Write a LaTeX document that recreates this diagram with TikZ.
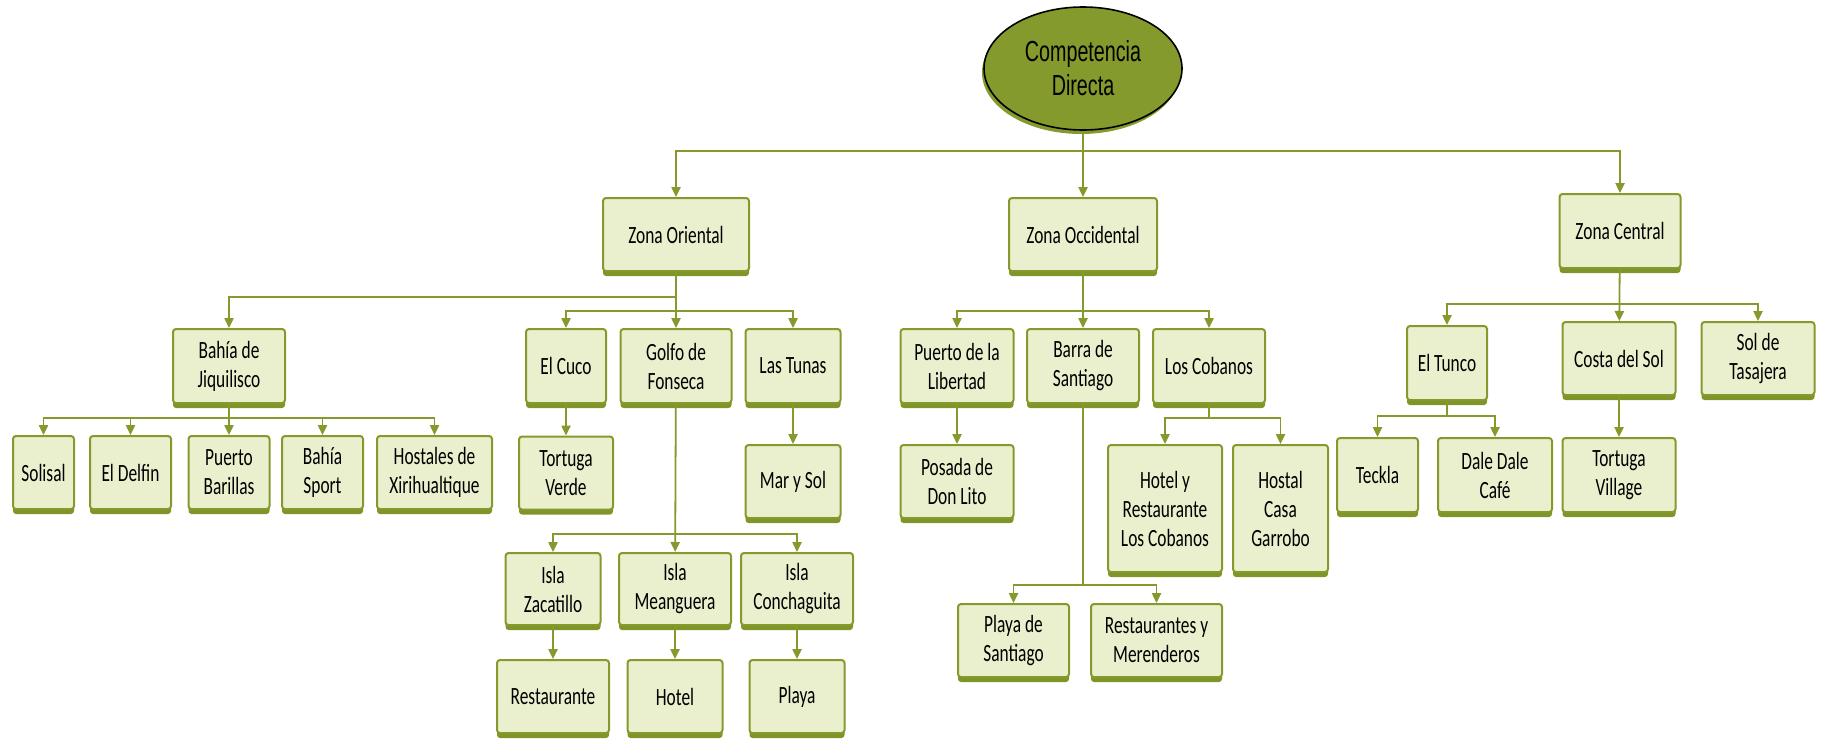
\documentclass[tikz,border=0pt]{standalone}
\usepackage{fontspec}
\usepackage{tikz}
\usetikzlibrary{shapes.geometric,shadows,arrows.meta}

\newfontfamily\cajafont{Carlito}[FakeStretch=0.7]
\newfontfamily\raizfont{Liberation Sans}[FakeStretch=0.68]

\definecolor{oliva}{HTML}{849A2C}
\definecolor{olivaosc}{HTML}{7F952A}
\definecolor{verdeclaro}{HTML}{EAF0CE}

\begin{document}
\begin{tikzpicture}
                \tikzset{x=0.5pt, y=-0.5pt}
                \tikzstyle{caja}=[rectangle, draw=oliva, fill=verdeclaro, line width=1pt, rounded corners=1.5pt,
                    inner sep=0pt, align=center, font={\cajafont\fontsize{12.4pt}{14.5pt}\selectfont},
                    general shadow={fill=olivaosc, shadow yshift=-2.5pt}]
                \tikzstyle{raiz}=[ellipse, draw=black, fill=oliva, line width=0.8pt, inner sep=0pt, align=center,
                    font={\raizfont\fontsize{14.5pt}{17pt}\selectfont},
                    general shadow={fill=oliva, shadow yshift=-2pt, shadow xshift=-1pt}]
                \tikzstyle{liga}=[draw=oliva, line width=0.9pt, -{Triangle[length=5pt,width=4.6pt]}]

                \useasboundingbox (0,0) rectangle (1821,739);

                % raiz y zonas
                \draw (1083, 68.5)  node[raiz, minimum width=99pt, minimum height=61.5pt]  (comp)  {Competencia\\Directa};

                \draw (676, 234.5)  node[caja, minimum width=73pt, minimum height=36.5pt]  (zor)   {Zona Oriental};
                \draw (1083, 234.5) node[caja, minimum width=74pt, minimum height=36.5pt]  (zoc)   {Zona Occidental};
                \draw (1620, 231)   node[caja, minimum width=60.5pt, minimum height=37pt]  (zce)   {Zona Central};

                % zona oriental
                \draw (229, 366)    node[caja, minimum width=56pt, minimum height=37pt]    (bj)    {Bah\'ia de\\Jiquilisco};
                \draw (566, 366)    node[caja, minimum width=40pt, minimum height=37pt]    (cuco)  {El Cuco};
                \draw (676, 366)    node[caja, minimum width=55.5pt, minimum height=37pt]  (golfo) {Golfo de\\Fonseca};
                \draw (793, 366)    node[caja, minimum width=47.5pt, minimum height=37pt]  (tunas) {Las Tunas};

                \draw (43.5, 472.5) node[caja, minimum width=30.5pt, minimum height=36.5pt] (sol)   {Solisal};
                \draw (130.5, 472.5) node[caja, minimum width=40.5pt, minimum height=36.5pt] (delf) {El Delfin};
                \draw (229, 472.5)  node[caja, minimum width=40.5pt, minimum height=36.5pt] (pb)    {Puerto\\Barillas};
                \draw (322.5, 472.5) node[caja, minimum width=40.5pt, minimum height=36.5pt] (bs)   {Bah\'ia\\Sport};
                \draw (434.5, 472.5) node[caja, minimum width=57.5pt, minimum height=36.5pt] (hx)   {Hostales de\\Xirihualtique};
                \draw (566, 473)    node[caja, minimum width=47pt, minimum height=36.5pt]  (tv)    {Tortuga\\Verde};
                \draw (793, 481.5)  node[caja, minimum width=47.5pt, minimum height=36.5pt] (mys)   {Mar y Sol};

                \draw (553, 589)    node[caja, minimum width=47.5pt, minimum height=36pt]  (iz)    {Isla\\Zacatillo};
                \draw (675, 589)    node[caja, minimum width=56pt, minimum height=36pt]    (im)    {Isla\\Meanguera};
                \draw (797, 589)    node[caja, minimum width=56pt, minimum height=36pt]    (ic)    {Isla\\Conchaguita};
                \draw (553, 696.5)  node[caja, minimum width=56pt, minimum height=36.5pt]  (rest)  {Restaurante};
                \draw (675, 696.5)  node[caja, minimum width=47.5pt, minimum height=36.5pt] (hotel) {Hotel};
                \draw (797, 696.5)  node[caja, minimum width=47.5pt, minimum height=36.5pt] (playa) {Playa};

                % zona occidental
                \draw (957, 366)    node[caja, minimum width=56.5pt, minimum height=37pt]  (pl)    {Puerto de la\\Libertad};
                \draw (1083, 366)   node[caja, minimum width=56pt, minimum height=37pt]    (barra) {Barra de\\Santiago};
                \draw (1209, 366)   node[caja, minimum width=56pt, minimum height=37pt]    (cob)   {Los Cobanos};

                \draw (957, 481.5)  node[caja, minimum width=56.5pt, minimum height=36.5pt] (pdl)   {Posada de\\Don Lito};
                \draw (1165, 508.5) node[caja, minimum width=57pt, minimum height=63.5pt]  (hyr)   {Hotel y\\Restaurante\\Los Cobanos};
                \draw (1280.5, 508.5) node[caja, minimum width=47.5pt, minimum height=63.5pt] (hcg) {Hostal\\Casa\\Garrobo};
                \draw (1013.5, 640.5) node[caja, minimum width=55.5pt, minimum height=36.5pt] (pds) {Playa de\\Santiago};
                \draw (1156.5, 640.5) node[caja, minimum width=65.5pt, minimum height=36.5pt] (rym) {Restaurantes y\\Merenderos};

                % zona central
                \draw (1447, 363)   node[caja, minimum width=40pt, minimum height=37pt]    (tunco) {El Tunco};
                \draw (1619, 358.5) node[caja, minimum width=56.5pt, minimum height=36.5pt] (costa) {Costa del Sol};
                \draw (1758, 358.5) node[caja, minimum width=56.5pt, minimum height=36.5pt] (tasa)  {Sol de\\Tasajera};

                \draw (1377.5, 475) node[caja, minimum width=40.5pt, minimum height=37pt]  (teck)  {Teckla};
                \draw (1495, 475)   node[caja, minimum width=57pt, minimum height=37pt]    (ddc)   {Dale Dale\\Caf\'e};
                \draw (1619, 475)   node[caja, minimum width=56.5pt, minimum height=37pt]  (tvil)  {Tortuga\\Village};

                % barras de reparto
                \coordinate (bcomp)  at (0, 151);
                \coordinate (bor)    at (0, 297);
                \coordinate (bor2)   at (0, 311);
                \coordinate (boc)    at (0, 311);
                \coordinate (bce)    at (0, 304);
                \coordinate (bbj)    at (0, 418);
                \coordinate (bgolfo) at (0, 534);
                \coordinate (bcob)   at (0, 418);
                \coordinate (bbarra) at (0, 585);
                \coordinate (btunco) at (0, 416);

                \draw [liga]        (comp) -- (zoc);
                \draw [liga]        (comp.south |- bcomp) -| (zor.north);
                \draw [liga]        (comp.south |- bcomp) -| (zce.north);

                \draw [liga]        (zor) -- (golfo);
                \draw [liga]        (zor.south |- bor) -| (bj.north);
                \draw [liga]        (zor.south |- bor2) -| (cuco.north);
                \draw [liga]        (zor.south |- bor2) -| (tunas.north);

                \draw [liga]        (bj) -- (pb);
                \foreach \h in {sol, delf, bs, hx}
                    \draw [liga]    (bj.south |- bbj) -| (\h.north);
                \draw [liga]        (cuco) -- (tv);
                \draw [liga]        (tunas) -- (mys);

                \draw [liga]        (golfo) -- (im);
                \draw [liga]        (golfo.south |- bgolfo) -| (iz.north);
                \draw [liga]        (golfo.south |- bgolfo) -| (ic.north);
                \draw [liga]        (iz) -- (rest);
                \draw [liga]        (im) -- (hotel);
                \draw [liga]        (ic) -- (playa);

                \draw [liga]        (zoc) -- (barra);
                \draw [liga]        (zoc.south |- boc) -| (pl.north);
                \draw [liga]        (zoc.south |- boc) -| (cob.north);
                \draw [liga]        (pl) -- (pdl);
                \draw [liga]        (cob.south) -- (cob.south |- bcob) -| (hyr.north);
                \draw [liga]        (cob.south |- bcob) -| (hcg.north);
                \draw [liga]        (barra.south) -- (barra.south |- bbarra) -| (pds.north);
                \draw [liga]        (barra.south |- bbarra) -| (rym.north);

                \draw [liga]        (zce) -- (costa);
                \draw [liga]        (zce.south |- bce) -| (tunco.north);
                \draw [liga]        (zce.south |- bce) -| (tasa.north);
                \draw [liga]        (tunco.south) -- (tunco.south |- btunco) -| (teck.north);
                \draw [liga]        (tunco.south |- btunco) -| (ddc.north);
                \draw [liga]        (costa) -- (tvil);
            \end{tikzpicture}
\end{document}
